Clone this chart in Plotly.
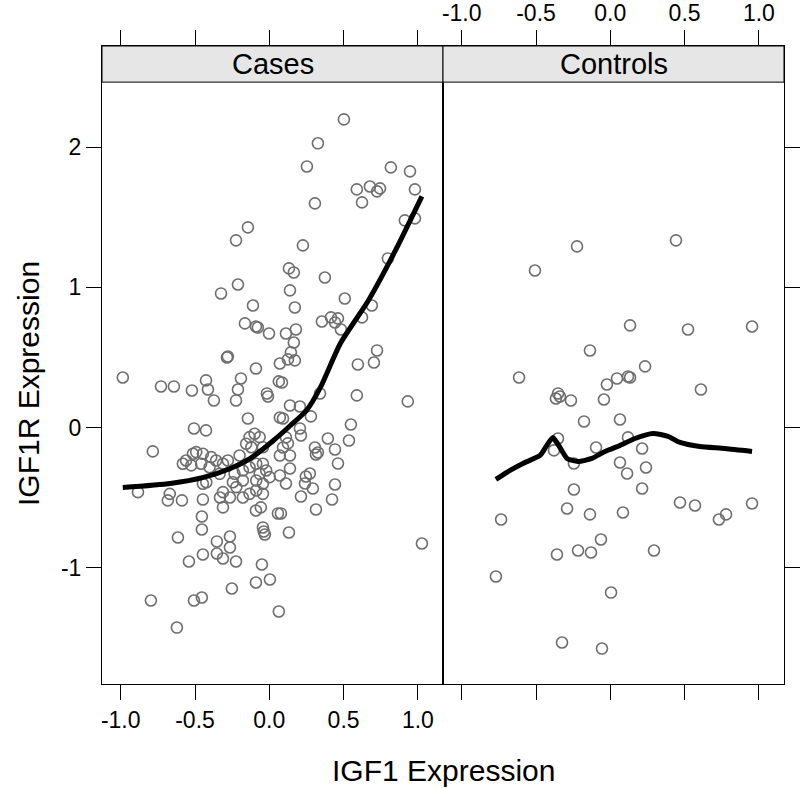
import plotly.graph_objects as go

# ---- Cases panel data (IGF1 expression, IGF1R expression) ----
cases_x = [-0.144, -0.224, -0.211, -0.325, -0.110, 0.502, 0.327, 0.253, 0.818, 0.947, 0.980, 0.589, 0.677, 0.745,
           0.725, 0.624, 0.307, 0.912, 0.980, 0.226, 0.798, 0.132, 0.165, 0.374, 0.139, 0.508, 0.172, 0.690,
           -0.164, -0.090, -0.077, -0.002, -0.285, -0.279, -0.090, -0.986, -0.729, -0.642, -0.521, -0.426,
           -0.413, -0.373, -0.191, -0.211, -0.224, -0.016, -0.009, -0.144, -0.507, -0.426, -0.784,
           -0.133, -0.099, -0.065, -0.156, -0.121, -0.043, -0.492, -0.514, -0.447, -0.560, -0.582, -0.525,
           -0.459, -0.391, -0.358, -0.402, -0.312, -0.279, -0.200, -0.334, -0.234, -0.178, -0.133, -0.088,
           -0.043, -0.021, -0.065, -0.088, -0.043, 0.002, -0.424, -0.447, -0.245, -0.178, -0.312, -0.222,
           -0.133, -0.088, -0.043, -0.884, -0.670, -0.683, -0.588, -0.447, -0.332, -0.265, -0.178,
           0.354, 0.415, 0.462, 0.442, 0.482, 0.624, 0.112, 0.179, 0.165, 0.145, 0.125, 0.172, 0.071, 0.725,
           0.704, 0.596, 0.064, 0.085, 0.341, 0.589, 0.932, 0.139, 0.206, 0.071, 0.092, 0.280, 0.549, 0.206,
           0.213, 0.112, 0.125, 0.092, 0.071, 0.139, 0.394, 0.536, 0.307, 0.327, 0.314, 0.442, 0.462, 0.139,
           0.273, 0.246, 0.071, 0.112, 0.240, 0.293, 0.213, 0.442, 0.422,
           0.314, 0.058, 0.078, 0.132, 1.027, 0.064,
           -0.312, -0.090, -0.057, -0.454, -0.454, -0.615, -0.353, -0.265, -0.265, -0.043, -0.037, -0.030,
           -0.447, -0.353, -0.312, -0.224, -0.541, -0.050, -0.090, 0.004, -0.252, -0.797, -0.507, -0.454, -0.622]
cases_y = [1.429, 1.336, 1.021, 0.957, 0.871, 2.2, 2.029, 1.864, 1.857, 1.829, 1.7, 1.7, 1.721, 1.707,
           1.686, 1.607, 1.6, 1.479, 1.493, 1.3, 1.207, 1.136, 1.107, 1.071, 0.979, 0.921, 0.857, 0.871,
           0.743, 0.721, 0.714, 0.671, 0.5, 0.507, 0.421, 0.357, 0.293, 0.293, 0.264, 0.336,
           0.271, 0.193, 0.35, 0.271, 0.193, 0.243, 0.221, 0.064, -0.007, -0.021, -0.171,
           -0.069, -0.045, -0.069, -0.116, -0.141, -0.141, -0.176, -0.188, -0.188, -0.236, -0.259, -0.271,
           -0.259, -0.212, -0.236, -0.284, -0.259, -0.236, -0.2, -0.331, -0.331, -0.307, -0.284, -0.259,
           -0.259, -0.307, -0.331, -0.379, -0.402, -0.355, -0.391, -0.402, -0.391, -0.379, -0.462, -0.426,
           -0.474, -0.45, -0.474, -0.462, -0.474, -0.521, -0.521, -0.514, -0.5, -0.5, -0.5,
           0.757, 0.786, 0.779, 0.75, 0.7, 0.786, 0.671, 0.7, 0.607, 0.536, 0.486, 0.479, 0.457, 0.55,
           0.464, 0.45, 0.329, 0.321, 0.243, 0.229, 0.186, 0.157, 0.15, 0.071, 0.064, 0.079, 0.021, -0.007,
           -0.057, -0.071, -0.114, -0.143, -0.2, -0.2, -0.079, -0.093, -0.143, -0.179, -0.193, -0.157, -0.257, -0.293,
           -0.329, -0.35, -0.343, -0.4, -0.4, -0.436, -0.493, -0.407, -0.514,
           -0.586, -0.614, -0.614, -0.75, -0.829, -1.314,
           -0.571, -0.593, -0.571, -0.636, -0.729, -0.786, -0.814, -0.779, -0.857, -0.714, -0.743, -0.764,
           -0.907, -0.9, -0.936, -0.957, -0.957, -0.979, -1.107, -1.086, -1.15, -1.236, -1.236, -1.214, -1.429]

# ---- Controls panel data ----
controls_x = [-0.224, -0.507, -0.137, -0.614, -0.352, -0.339, -0.366, -0.265, -0.043, -0.023, 0.045, 0.119,
              0.133, -0.177, -0.096, -0.352, -0.379, 0.442, 0.133, 0.523, 0.954, 0.234, 0.610, 0.065, 0.119,
              0.214, -0.245, -0.245, -0.291, -0.137, -0.735, -0.063, -0.359, -0.217, -0.130, -0.770, 0.005,
              -0.325, -0.056, 0.065, 0.113, 0.240, 0.214, 0.469, 0.570, 0.954, 0.731, 0.779, 0.085, 0.294]
controls_y = [1.293, 1.121, 0.55, 0.357, 0.243, 0.221, 0.207, 0.193, 0.2, 0.307, 0.35, 0.364,
              0.357, 0.043, -0.143, -0.079, -0.164, 1.336, 0.729, 0.7, 0.721, 0.436, 0.271, 0.057, -0.071,
              -0.15, -0.257, -0.443, -0.579, -0.621, -0.657, -0.8, -0.907, -0.879, -0.893, -1.064, -1.179,
              -1.536, -1.579, -0.25, -0.329, -0.286, -0.436, -0.536, -0.557, -0.543, -0.657, -0.621, -0.607, -0.879]

# ---- smoother (loess) curves ----
cases_fit_x = [-0.986, -0.666, -0.443, -0.262, -0.128, 0.028, 0.142, 0.250, 0.344, 0.478, 0.667, 0.849, 1.027]
cases_fit_y = [-0.429, -0.4, -0.357, -0.293, -0.221, -0.093, 0.014, 0.121, 0.286, 0.6, 0.907, 1.264, 1.65]
controls_fit_x = [-0.770, -0.675, -0.588, -0.473, -0.432, -0.386, -0.339, -0.291, -0.217, -0.124, -0.036,
                  0.065, 0.166, 0.287, 0.388, 0.469, 0.603, 0.772, 0.954]
controls_fit_y = [-0.371, -0.307, -0.257, -0.2, -0.136, -0.071, -0.143, -0.221, -0.243, -0.221, -0.171,
                  -0.129, -0.079, -0.043, -0.064, -0.107, -0.136, -0.15, -0.171]

panels = ["Cases", "Controls"]
x_ticks = [-1.0, -0.5, 0.0, 0.5, 1.0]
x_ticktext = ["-1.0", "-0.5", "0.0", "0.5", "1.0"]
y_ticks = [-1, 0, 1, 2]
y_ticktext = ["-1", "0", "1", "2"]

XR = [-1.126, 1.169]
Y_PANEL_TOP = 2.466
Y_STRIP_TOP = 2.724
YR = [-1.832, Y_STRIP_TOP]

FONT = "Liberation Sans, Arial, sans-serif"
PT_COL = "rgb(110,110,110)"

fig = go.Figure()
marker = dict(symbol="circle-open", size=11, color=PT_COL, line=dict(width=1.6, color=PT_COL))
fig.add_trace(go.Scatter(x=cases_x, y=cases_y, mode="markers", marker=marker, xaxis="x", yaxis="y",
                         showlegend=False, hoverinfo="skip"))
fig.add_trace(go.Scatter(x=controls_x, y=controls_y, mode="markers", marker=marker, xaxis="x2", yaxis="y2",
                         showlegend=False, hoverinfo="skip"))
fig.add_trace(go.Scatter(x=cases_fit_x, y=cases_fit_y, mode="lines", line=dict(color="black", width=5,
                         shape="spline", smoothing=0.6), xaxis="x", yaxis="y", showlegend=False,
                         hoverinfo="skip"))
fig.add_trace(go.Scatter(x=controls_fit_x, y=controls_fit_y, mode="lines", line=dict(color="black", width=5,
                         shape="spline", smoothing=0.6), xaxis="x2", yaxis="y2", showlegend=False,
                         hoverinfo="skip"))

axcommon = dict(showgrid=False, zeroline=False, showline=True, linecolor="black", linewidth=1,
                ticks="outside", ticklen=15, tickcolor="black", tickwidth=1, automargin=False,
                tickfont=dict(family=FONT, size=23, color="black"))

fig.update_layout(
    width=800, height=788,
    margin=dict(l=102, r=16, t=46, b=104, autoexpand=False),
    paper_bgcolor="white", plot_bgcolor="white",
    xaxis=dict(domain=[0, 0.5], range=XR, side="bottom", mirror="ticks", anchor="y",
               tickvals=x_ticks, ticktext=x_ticktext, **axcommon),
    xaxis2=dict(domain=[0.5, 1], range=XR, side="top", mirror="ticks", anchor="y2",
                tickvals=x_ticks, ticktext=x_ticktext, **axcommon),
    yaxis=dict(domain=[0, 1], range=YR, side="left", mirror=True, anchor="x",
               tickvals=y_ticks, ticktext=y_ticktext, **axcommon),
    yaxis2=dict(domain=[0, 1], range=YR, side="right", mirror=True, anchor="x2",
                tickvals=y_ticks, showticklabels=False, **axcommon),
)

shapes = []
annotations = []
for i, name in enumerate(panels):
    xr = "x domain" if i == 0 else "x2 domain"
    yr = "y" if i == 0 else "y2"
    shapes.append(dict(type="rect", xref=xr, yref=yr, x0=0, x1=1, y0=Y_PANEL_TOP, y1=Y_STRIP_TOP,
                       fillcolor="#e6e6e6", line=dict(color="black", width=1), layer="above"))
    annotations.append(dict(xref=xr, yref=yr, x=0.5, y=(Y_PANEL_TOP + Y_STRIP_TOP) / 2, text=name,
                            showarrow=False, font=dict(family=FONT, size=29, color="black"),
                            xanchor="center", yanchor="middle"))

annotations.append(dict(xref="paper", yref="paper", x=0.5, y=(684 - 771) / 638, text="IGF1 Expression",
                        showarrow=False, font=dict(family=FONT, size=30, color="black"),
                        xanchor="center", yanchor="middle"))
annotations.append(dict(xref="paper", yref="paper", x=(28 - 102) / 682, y=(684 - 384) / 638,
                        text="IGF1R Expression", textangle=-90, showarrow=False,
                        font=dict(family=FONT, size=30, color="black"), xanchor="center", yanchor="middle"))

fig.update_layout(shapes=shapes, annotations=annotations)
fig.write_html("out.html", config={"displayModeBar": False},
               post_script="document.body.style.margin='0px';")
